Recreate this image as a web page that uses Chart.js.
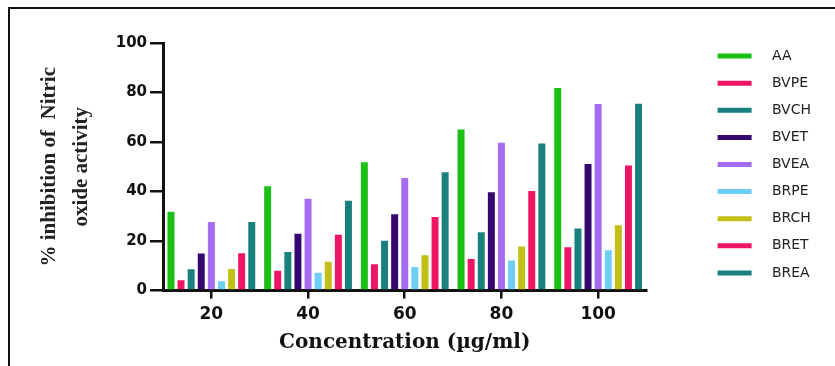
<!DOCTYPE html>
<html>
<head>
<meta charset="utf-8">
<script src="https://cdn.jsdelivr.net/npm/chart.js@4.4.0/dist/chart.umd.min.js"></script>
<style>
  body { margin: 0; background: #fff; }
  #wrap { position: relative; width: 835px; height: 366px; }
  #frame { position: absolute; left: 8px; top: 7px; right: -10px; bottom: -10px;
           border-top: 2px solid #111; border-left: 2px solid #111; pointer-events: none; }
</style>
</head>
<body>
<div id="wrap">
  <canvas id="bar-chart" width="835" height="366"></canvas>
  <div id="frame"></div>
</div>
<script>
// concentrations (x axis)
var concentrations = ["20", "40", "60", "80", "100"];

// % inhibition of nitric oxide activity, one array per extract
var AA   = [31.8, 42.1, 51.8, 65.1, 81.8];
var BVPE = [4.2, 8.0, 10.6, 12.8, 17.5];
var BVCH = [8.6, 15.6, 20.1, 23.6, 25.1];
var BVET = [15.0, 23.0, 30.8, 39.7, 51.1];
var BVEA = [27.7, 37.1, 45.5, 59.7, 75.4];
var BRPE = [3.8, 7.2, 9.5, 12.2, 16.3];
var BRCH = [8.7, 11.7, 14.3, 17.8, 26.4];
var BRET = [15.1, 22.6, 29.7, 40.2, 50.5];
var BREA = [27.7, 36.3, 47.8, 59.4, 75.5];

var yTicks = [0, 20, 40, 60, 80, 100];

var seriesNames = ["AA", "BVPE", "BVCH", "BVET", "BVEA", "BRPE", "BRCH", "BRET", "BREA"];
var seriesData = [AA, BVPE, BVCH, BVET, BVEA, BRPE, BRCH, BRET, BREA];
var seriesColors = ["#1cbf14", "#ee1566", "#1a807e", "#35086f", "#a56cf0",
                    "#6dcff3", "#c2bf18", "#ee1566", "#1a807e"];

var datasets = seriesNames.map(function (name, i) {
  return {
    label: name,
    data: seriesData[i],
    backgroundColor: seriesColors[i],
    borderWidth: 0,
    categoryPercentage: 0.94,
    barPercentage: 0.69
  };
});

new Chart(document.getElementById("bar-chart"), {
  type: 'bar',
  data: { labels: concentrations, datasets: datasets },
  options: {
    responsive: false,
    animation: false,
    layout: { padding: { left: 14, top: 36, right: 14, bottom: 7 } },
    plugins: {
      tooltip: { enabled: false },
      legend: {
        position: 'right',
        align: 'start',
        labels: {
          boxWidth: 34,
          boxHeight: 5,
          padding: 13.1,
          color: '#222',
          font: { family: 'DejaVu Sans', size: 14 },
          generateLabels: function (chart) {
            return Chart.defaults.plugins.legend.labels.generateLabels(chart).map(function (l) {
              l.text = '   ' + l.text;
              return l;
            });
          }
        }
      }
    },
    scales: {
      x: {
        grid: { drawOnChartArea: false, offset: false, color: '#111', lineWidth: 2.5, tickLength: 8 },
        border: { color: '#111', width: 3 },
        ticks: { color: '#111', padding: 6, font: { family: 'DejaVu Sans', size: 17, weight: 'bold' } },
        title: {
          display: true,
          text: 'Concentration (µg/ml)',
          color: '#111',
          padding: { top: 0, bottom: 4 },
          font: { family: 'DejaVu Serif', size: 20, weight: 'bold' }
        }
      },
      y: {
        min: 0,
        max: 100,
        afterBuildTicks: function (scale) {
          scale.ticks = yTicks.map(function (v) { return { value: v }; });
        },
        afterFit: function (scale) { scale.width = 149; },
        grid: { drawOnChartArea: false, color: '#111', lineWidth: 2.5, tickLength: 13 },
        border: { color: '#111', width: 3 },
        ticks: { color: '#111', padding: 3, font: { family: 'DejaVu Sans', size: 15, weight: 'bold' } },
        title: {
          display: true,
          text: ['% inhibition of  Nitric', 'oxide activity'],
          color: '#222',
          padding: { top: 20, bottom: 18 },
          font: { family: 'Liberation Serif', size: 21, weight: 'bold', lineHeight: 1.52 }
        }
      },
      // empty axes used only as spacers
      gap: {
        position: 'right',
        grid: { display: false },
        border: { display: false },
        ticks: { display: false },
        afterFit: function (scale) { scale.width = 58; }
      },
      topgap: {
        position: 'top',
        grid: { display: false },
        border: { display: false },
        ticks: { display: false },
        afterFit: function (scale) { scale.height = 7; }
      }
    }
  }
});
</script>
</body>
</html>
